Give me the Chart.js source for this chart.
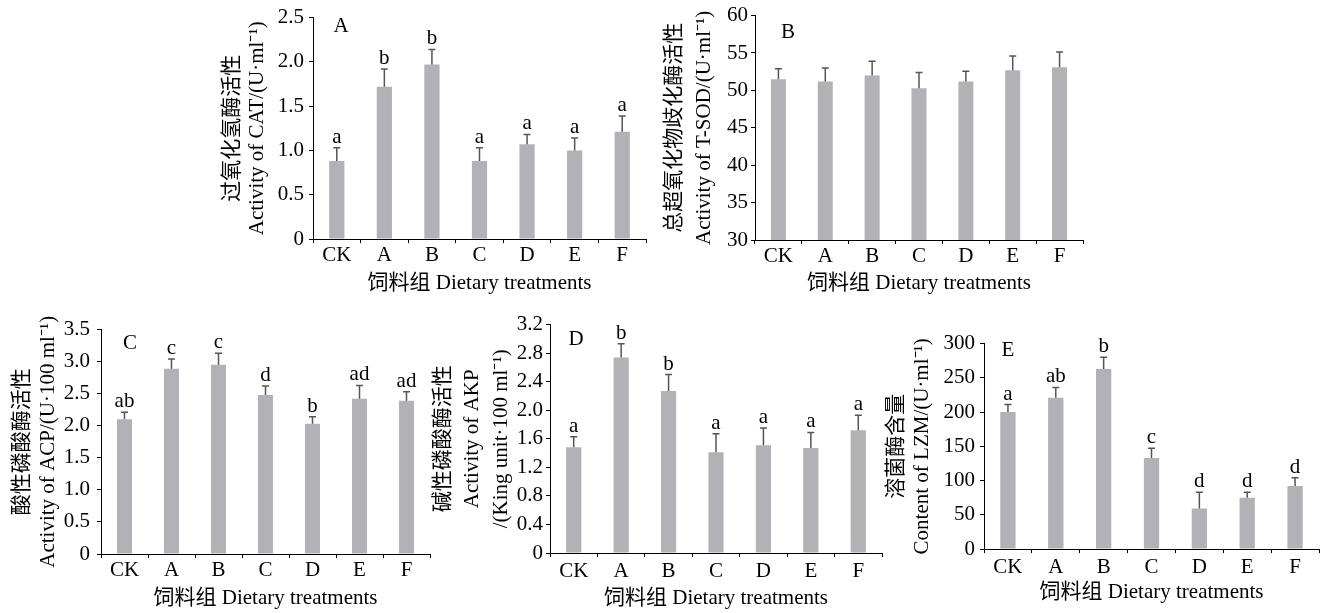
<!DOCTYPE html>
<html><head><meta charset="utf-8">
<script src="https://cdn.jsdelivr.net/npm/chart.js@4.4.1/dist/chart.umd.min.js"></script>
<style>
html,body{margin:0;padding:0;background:#fff;width:1327px;height:613px;overflow:hidden;position:relative}
canvas{position:absolute}
</style></head><body>
<canvas id="cA"></canvas><canvas id="cB"></canvas><canvas id="cC"></canvas><canvas id="cD"></canvas><canvas id="cE"></canvas>
<script>
// ---- data ----
const categories = ['CK','A','B','C','D','E','F'];

const catMean = [0.88, 1.72, 1.97, 0.88, 1.07, 1.00, 1.21];
const catErr  = [0.15, 0.20, 0.17, 0.15, 0.11, 0.14, 0.18];
const catSig  = ['a','b','b','a','a','a','a'];
const catTicks = ['0','0.5','1.0','1.5','2.0','2.5'];

const sodMean = [51.5, 51.2, 52.0, 50.3, 51.2, 52.7, 53.1];
const sodErr  = [1.4, 1.8, 1.9, 2.1, 1.35, 1.9, 2.05];
const sodSig  = ['','','','','','',''];
const sodTicks = ['30','35','40','45','50','55','60'];

const acpMean = [2.10, 2.89, 2.95, 2.48, 2.03, 2.42, 2.39];
const acpErr  = [0.11, 0.15, 0.18, 0.14, 0.11, 0.21, 0.14];
const acpSig  = ['ab','c','c','d','b','ad','ad'];
const acpTicks = ['0','0.5','1.0','1.5','2.0','2.5','3.0','3.5'];

const akpMean = [1.48, 2.74, 2.27, 1.41, 1.51, 1.47, 1.72];
const akpErr  = [0.15, 0.19, 0.23, 0.26, 0.24, 0.22, 0.21];
const akpSig  = ['a','b','b','a','a','a','a'];
const akpTicks = ['0','0.4','0.8','1.2','1.6','2.0','2.4','2.8','3.2'];

const lzmMean = [200, 221, 263, 133, 59, 75, 92];
const lzmErr  = [11, 15, 17, 14, 24, 8, 12];
const lzmSig  = ['a','ab','b','c','d','d','d'];
const lzmTicks = ['0','50','100','150','200','250','300'];

const xTitle = '饲料组 Dietary treatments';

// ---- styling ----
const FONT = "'Liberation Serif','Times New Roman','Noto Sans CJK SC',serif";
const BAR = '#b2b1b6';
const ERR = '#555555';

const errPlugin = {
  id: 'errbars',
  afterDatasetsDraw(chart, args, opts) {
    const ctx = chart.ctx;
    const meta = chart.getDatasetMeta(0);
    const ys = chart.scales.y;
    ctx.save();
    ctx.strokeStyle = ERR; ctx.lineWidth = 1.5;
    ctx.fillStyle = '#000';
    ctx.font = '21px ' + FONT;
    ctx.textAlign = 'center'; ctx.textBaseline = 'alphabetic';
    opts.mean.forEach((m, i) => {
      const x = meta.data[i].x;
      const y0 = ys.getPixelForValue(m);
      const y1 = ys.getPixelForValue(m + opts.err[i]);
      ctx.beginPath();
      ctx.moveTo(x, y0); ctx.lineTo(x, y1);
      ctx.moveTo(x - 3.5, y1); ctx.lineTo(x + 3.5, y1);
      ctx.stroke();
      if (opts.sig[i]) ctx.fillText(opts.sig[i], x, y1 - 5);
    });
    const a = chart.chartArea;
    ctx.textBaseline = 'middle';
    ctx.fillText(opts.letter, a.left + opts.ldx, a.top + opts.ldy);
    ctx.restore();
  }
};

function panel(p) {
  const el = document.getElementById(p.id);
  el.width = p.w; el.height = p.h;
  el.style.left = p.x + 'px'; el.style.top = p.y + 'px';
  new Chart(el, {
    type: 'bar',
    data: { labels: categories, datasets: [{ data: p.mean, backgroundColor: BAR, borderWidth: 0,
      barPercentage: 0.32, categoryPercentage: 1 }] },
    plugins: [errPlugin],
    options: {
      responsive: false, animation: false, devicePixelRatio: 1,
      layout: { padding: { left: 0, top: 15, right: p.pr, bottom: 0 } },
      plugins: { legend: { display: false }, tooltip: { enabled: false },
        errbars: { mean: p.mean, err: p.err, sig: p.sig, letter: p.letter, ldx: p.ldx, ldy: p.ldy } },
      scales: {
        x: {
          grid: { display: true, drawOnChartArea: false, drawTicks: true, tickLength: 4, color: '#000', offset: true },
          border: { display: true, color: '#000', width: 1 },
          ticks: { color: '#000', font: { family: FONT, size: 21 }, padding: p.xpad, maxRotation: 0, autoSkip: false },
          title: { display: true, text: xTitle, color: '#000', font: { family: FONT, size: 21 }, padding: 0 },
          afterFit(s) { s.height = p.hx; }
        },
        y: {
          min: p.min, max: p.max,
          grid: { display: true, drawOnChartArea: false, drawTicks: true, tickLength: 4, color: '#000' },
          border: { display: true, color: '#000', width: 1 },
          ticks: { stepSize: p.step, color: '#000', font: { family: FONT, size: 21 }, padding: p.ypad,
            autoSkip: false, callback: (v, i) => p.ticks[i] },
          title: { display: true, text: p.title, color: '#000',
            font: { family: FONT, size: 21, lineHeight: p.tlh }, padding: { top: p.tpad, bottom: 0 } },
          afterFit(s) { s.width = p.wy; }
        }
      }
    }
  });
}

panel({ id: 'cA', x: 205, y: 0, w: 446, h: 296, pr: 5, wy: 108, hx: 57, xpad: 0, ypad: 5,
  min: 0, max: 2.5, step: 0.5, ticks: catTicks, mean: catMean, err: catErr, sig: catSig,
  title: ['过氧化氢酶活性', 'Activity of CAT/(U·ml⁻¹)'], tlh: 25/21, tpad: 14.5,
  letter: 'A', ldx: 28, ldy: 9 });

panel({ id: 'cB', x: 650, y: 0, w: 438, h: 296, pr: 5, wy: 105, hx: 56, xpad: 0, ypad: 3,
  min: 30, max: 60, step: 5, ticks: sodTicks, mean: sodMean, err: sodErr, sig: sodSig,
  title: ['总超氧化物歧化酶活性', 'Activity of T-SOD/(U·ml⁻¹)'], tlh: 30/21, tpad: 9,
  letter: 'B', ldx: 33, ldy: 17 });

panel({ id: 'cC', x: 0, y: 310, w: 435, h: 301, pr: 5, wy: 101, hx: 57, xpad: 0, ypad: 7,
  min: 0, max: 3.5, step: 0.5, ticks: acpTicks, mean: acpMean, err: acpErr, sig: acpSig,
  title: ['酸性磷酸酶活性', 'Activity of ACP/(U·100 ml⁻¹)'], tlh: 26/21, tpad: 9,
  letter: 'C', ldx: 29, ldy: 14 });

panel({ id: 'cD', x: 425, y: 309, w: 462, h: 302, pr: 5, wy: 125, hx: 58, xpad: 2, ypad: 3,
  min: 0, max: 3.2, step: 0.4, ticks: akpTicks, mean: akpMean, err: akpErr, sig: akpSig,
  title: ['碱性磷酸酶活性', 'Activity of AKP', '/(King unit·100 ml⁻¹)'], tlh: 29/21, tpad: 3.5,
  letter: 'D', ldx: 26, ldy: 15 });

panel({ id: 'cE', x: 880, y: 326, w: 445, h: 279, pr: 6, wy: 104, hx: 56, xpad: 2, ypad: 5,
  min: 0, max: 300, step: 50, ticks: lzmTicks, mean: lzmMean, err: lzmErr, sig: lzmSig,
  title: ['溶菌酶含量', 'Content of LZM/(U·ml⁻¹)'], tlh: 26/21, tpad: 3,
  letter: 'E', ldx: 24, ldy: 7 });
</script>
</body></html>
